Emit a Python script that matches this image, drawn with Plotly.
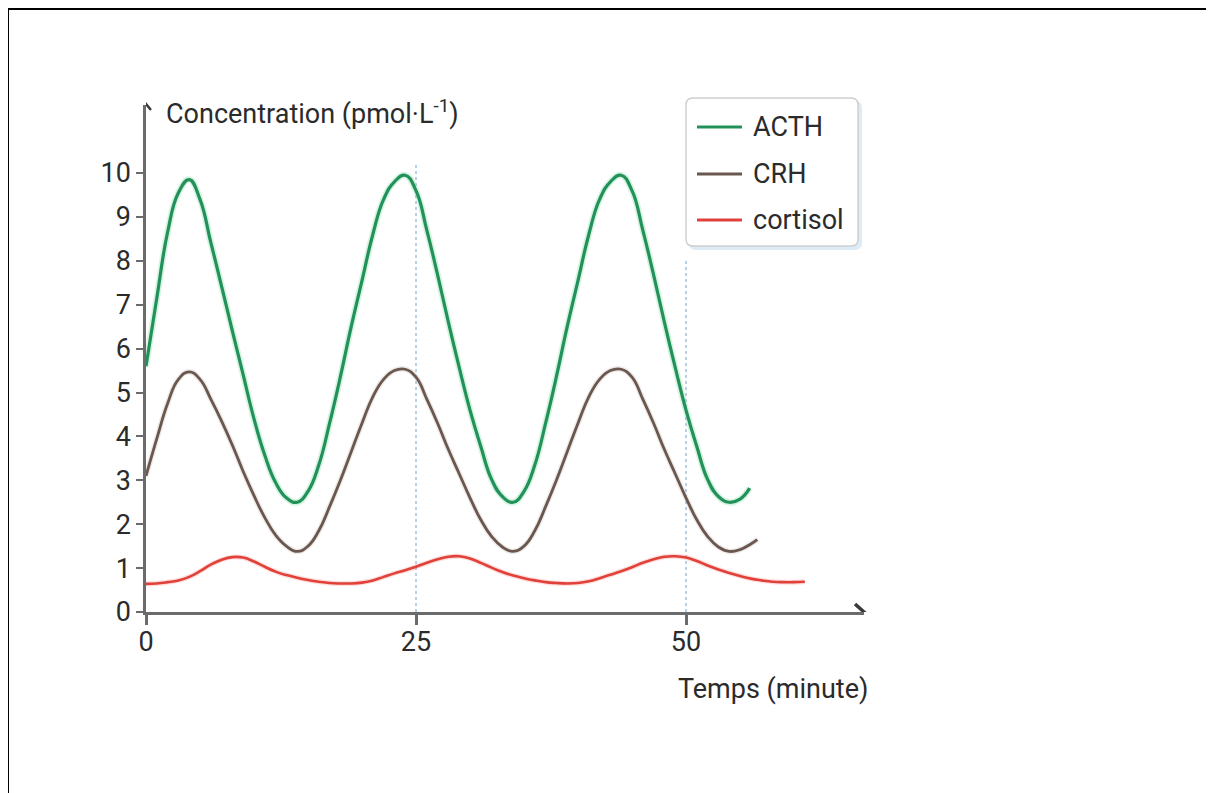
import plotly.graph_objects as go

# ---------------- data ----------------
t_acth = list(range(0, 56)) + [55.9]
acth = [5.6, 7.15, 8.65, 9.55, 9.85, 9.4, 8.42, 7.42, 6.4, 5.4,
        4.4, 3.57, 2.95, 2.6, 2.5, 2.75, 3.35, 4.3, 5.36, 6.5,
        7.55, 8.6, 9.4, 9.8, 9.95, 9.6, 8.7, 7.68, 6.6, 5.57,
        4.6, 3.77, 3.02, 2.63, 2.5, 2.75, 3.35, 4.3, 5.36, 6.5,
        7.55, 8.6, 9.4, 9.8, 9.95, 9.6, 8.7, 7.68, 6.6, 5.57,
        4.6, 3.77, 3.02, 2.63, 2.5, 2.57, 2.82]

t_crh = list(range(0, 57)) + [56.6]
crh = [3.1, 3.95, 4.75, 5.3, 5.47, 5.3, 4.85, 4.35, 3.8, 3.2,
       2.65, 2.15, 1.75, 1.5, 1.38, 1.5, 1.85, 2.4, 3.0, 3.65,
       4.3, 4.9, 5.3, 5.5, 5.53, 5.35, 4.85, 4.3, 3.7, 3.15,
       2.6, 2.1, 1.72, 1.48, 1.38, 1.5, 1.85, 2.4, 3.0, 3.65,
       4.3, 4.9, 5.3, 5.5, 5.53, 5.35, 4.85, 4.3, 3.7, 3.15,
       2.6, 2.1, 1.72, 1.48, 1.38, 1.42, 1.55, 1.65]

t_cort = list(range(0, 62))
cortisol = [0.64, 0.65, 0.68, 0.72, 0.8, 0.93, 1.08, 1.19, 1.25, 1.24,
            1.15, 1.03, 0.92, 0.84, 0.78, 0.73, 0.69, 0.66, 0.65, 0.65,
            0.67, 0.72, 0.8, 0.88, 0.95, 1.03, 1.12, 1.2, 1.26, 1.27,
            1.22, 1.12, 1.01, 0.91, 0.83, 0.77, 0.72, 0.68, 0.66, 0.65,
            0.66, 0.7, 0.77, 0.85, 0.93, 1.02, 1.12, 1.2, 1.26, 1.27,
            1.24, 1.16, 1.06, 0.97, 0.89, 0.82, 0.76, 0.72, 0.69, 0.68,
            0.68, 0.69]

series_names = ["ACTH", "CRH", "cortisol"]
x_ticks = [0, 25, 50]
y_ticks = list(range(0, 11))
guide_lines = [(25, 10.2), (50, 8.05)]

# ---------------- style ----------------
C_ACTH = "#22915a"
C_CRH = "#6a574f"
C_CORT = "#e0413a"
AXIS = "#6b6b6b"
TXT = "#2b2b2b"
FONT = "Roboto"
FS = 27

OFF = 8  # page body margin
W, H = 1206, 785
PW = 718
L = 146 - OFF
T = 105 - OFF
BOTTOM = 612 - OFF
PH = BOTTOM - T
B = H - BOTTOM
R = W - L - PW
XMAX = PW / 10.8
YMAX = PH / 43.9


def px(p):
    return (p - OFF - L) / PW


def py(p):
    return (BOTTOM - (p - OFF)) / PH


fig = go.Figure()

SM = 1.3
# soft glow lines
fig.add_trace(go.Scatter(x=t_acth, y=acth, mode="lines", line=dict(color="rgba(90,210,140,0.25)", width=6.5, shape="spline", smoothing=SM), hoverinfo="skip", showlegend=False))
fig.add_trace(go.Scatter(x=t_crh, y=crh, mode="lines", line=dict(color="rgba(160,140,130,0.18)", width=5.5, shape="spline", smoothing=SM), hoverinfo="skip", showlegend=False))
fig.add_trace(go.Scatter(x=t_cort, y=cortisol, mode="lines", line=dict(color="rgba(250,120,110,0.25)", width=5, shape="spline", smoothing=SM), hoverinfo="skip", showlegend=False))

fig.add_trace(go.Scatter(x=t_acth, y=acth, mode="lines", name=series_names[0], line=dict(color=C_ACTH, width=3.2, shape="spline", smoothing=SM), showlegend=False))
fig.add_trace(go.Scatter(x=t_crh, y=crh, mode="lines", name=series_names[1], line=dict(color=C_CRH, width=2.8, shape="spline", smoothing=SM), showlegend=False))
fig.add_trace(go.Scatter(x=t_cort, y=cortisol, mode="lines", name=series_names[2], line=dict(color=C_CORT, width=2.6, shape="spline", smoothing=SM), showlegend=False))

shapes = []
# dotted guide lines
for gx, gtop in guide_lines:
    shapes.append(dict(type="line", xref="x", yref="y", x0=gx, x1=gx, y0=0, y1=gtop,
                       line=dict(color="#a9c6dd", width=1.6, dash="dot"), layer="below"))

# axis arrow heads
shapes.append(dict(type="path", xref="paper", yref="y", xsizemode="pixel", ysizemode="pixel",
                   xanchor=px(864), yanchor=0,
                   path="M -9,8 L 0,0 L -9,-8", line=dict(color="#3a3a3a", width=3.5)))
shapes.append(dict(type="path", xref="x", yref="paper", xsizemode="pixel", ysizemode="pixel",
                   xanchor=0, yanchor=py(104),
                   path="M -5,-6 L 0,0 L 5,-6", line=dict(color="#3a3a3a", width=2.5)))

# frame of the picture
shapes.append(dict(type="line", xref="paper", yref="paper", x0=px(8), x1=px(1220), y0=py(9), y1=py(9),
                   line=dict(color="black", width=2)))
shapes.append(dict(type="line", xref="paper", yref="paper", x0=px(8), x1=px(8), y0=py(9), y1=py(800),
                   line=dict(color="black", width=2)))


# legend box (rounded) with soft shadow
def rrect(x0, y0, x1, y1, r):
    X0, X1 = px(x0), px(x1)
    Y0, Y1 = py(y0), py(y1)
    rx, ry = r / PW, r / PH
    return (f"M {X0+rx},{Y0} L {X1-rx},{Y0} Q {X1},{Y0} {X1},{Y0-ry} "
            f"L {X1},{Y1+ry} Q {X1},{Y1} {X1-rx},{Y1} L {X0+rx},{Y1} "
            f"Q {X0},{Y1} {X0},{Y1+ry} L {X0},{Y0-ry} Q {X0},{Y0} {X0+rx},{Y0} Z")


shapes.append(dict(type="path", xref="paper", yref="paper", path=rrect(689, 101, 862, 250, 7),
                   fillcolor="#dcebf6", line=dict(width=0)))
shapes.append(dict(type="path", xref="paper", yref="paper", path=rrect(686, 98, 858, 246, 7),
                   fillcolor="white", line=dict(color="#cfcfcf", width=1.5)))

legend_rows = [(127, C_ACTH), (174, C_CRH), (220, C_CORT)]
annotations = []
for (ly, col), name in zip(legend_rows, series_names):
    shapes.append(dict(type="line", xref="paper", yref="paper", x0=px(697), x1=px(742), y0=py(ly), y1=py(ly),
                       line=dict(color=col, width=3)))
    annotations.append(dict(xref="paper", yref="paper", x=px(751), y=py(ly), text=name, showarrow=False,
                            xanchor="left", yanchor="middle", font=dict(family=FONT, size=FS, color=TXT)))

annotations.append(dict(xref="paper", yref="paper", x=px(164), y=py(112),
                        text="Concentration (pmol·L<sup>-1</sup>)", showarrow=False,
                        xanchor="left", yanchor="middle", font=dict(family=FONT, size=FS, color=TXT)))
annotations.append(dict(xref="paper", yref="paper", x=px(870), y=py(689),
                        text="Temps (minute)", showarrow=False,
                        xanchor="right", yanchor="middle", font=dict(family=FONT, size=FS, color=TXT)))

fig.update_layout(
    width=W, height=H,
    margin=dict(l=L, r=R, t=T, b=B),
    paper_bgcolor="white", plot_bgcolor="white",
    shapes=shapes, annotations=annotations,
    showlegend=False,
    font=dict(family=FONT, color=TXT),
)
fig.update_xaxes(range=[0, XMAX], tickvals=x_ticks, showgrid=False, zeroline=False,
                 showline=True, linecolor=AXIS, linewidth=2.5, ticks="outside", ticklen=10,
                 tickwidth=2.5, tickcolor=AXIS, tickfont=dict(family=FONT, size=FS, color=TXT),
                 ticklabelstandoff=-6)
fig.update_yaxes(range=[0, YMAX], tickvals=y_ticks, showgrid=False, zeroline=False,
                 showline=True, linecolor=AXIS, linewidth=2.5, ticks="outside", ticklen=7,
                 tickwidth=2, tickcolor=AXIS, tickfont=dict(family=FONT, size=FS, color=TXT))

fig.write_html("out.html")
